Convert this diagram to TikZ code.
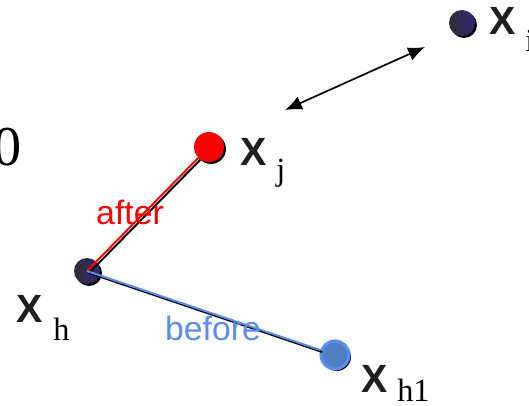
\documentclass[tikz,border=0pt]{standalone}
\usepackage{fontspec}
\setmainfont{Liberation Serif}
\newfontfamily\labelfont{Liberation Sans}
\usepackage{tikz}
\usetikzlibrary{arrows.meta,shadows}
\definecolor{DotRed}{HTML}{FF0000}
\definecolor{EdgeBlue}{HTML}{5B8DEF}
\definecolor{FillBlue}{HTML}{4F80C2}
\definecolor{DarkPurple}{HTML}{33287A}
\definecolor{DarkGray}{HTML}{2E2E33}
\tikzset{
  ball/.style={
    circle,inner sep=0pt,
    general shadow={fill=black,shadow xshift=1.4pt,shadow yshift=-1.4pt}
  },
  xlabel/.style={
    anchor=base west,inner sep=0pt,
    font=\labelfont\bfseries\fontsize{28}{33}\selectfont,text=black!88
  },
  sublabel/.style={
    anchor=base west,inner sep=0pt,
    font=\fontsize{23}{28}\selectfont
  },
  edgetext/.style={
    anchor=base,inner sep=0pt,
    font=\labelfont\fontsize{24}{29}\selectfont
  },
  shadowline/.style={line width=1.4pt,draw=black,
    transform canvas={shift={(1.4pt,-1.4pt)}}},
}

\begin{document}
\begin{tikzpicture}
  \useasboundingbox (0,0) rectangle (13.225,10.125);
  % points
  \node[ball,minimum size=0.65cm,left color=DarkGray,right color=DarkPurple] (xi) at (11.55,9.55) {};
  \node[ball,minimum size=0.75cm,fill=DotRed] (xj) at (5.225,6.45) {};
  \node[ball,minimum size=0.70cm,fill=FillBlue,draw=EdgeBlue,line width=2.2pt] (xh1) at (8.375,1.25) {};
  \node[ball,minimum size=0.65cm,left color=DarkGray,right color=DarkPurple] (xh) at (2.175,3.35) {};
  % connectors
  \draw[shadowline] (xh.center) -- (xj);
  \draw[line width=1.4pt,draw=DotRed] (xh.center) -- (xj);
  \draw[shadowline] (xh.center) -- (xh1);
  \draw[line width=1.4pt,draw=EdgeBlue] (xh.center) -- (xh1);
  \coordinate (d1) at (7.125,7.375);
  \coordinate (d2) at (10.625,8.95);
  \draw[line width=1.2pt,{Latex[length=12pt,width=10pt]}-{Latex[length=12pt,width=10pt]}] (d1) -- (d2);
  % labels
  \node[inner sep=0pt,font=\fontsize{40}{48}\selectfont] (zero) at (0.2,6.4375) {0};
  \node[xlabel] (lxi) at (12.22,9.25) {X};
  \node[sublabel] (sxi) at (13.125,8.825) {i};
  \node[xlabel] (lxj) at (6.0,6.0) {X};
  \node[sublabel] (sxj) at (6.9,5.625) {j};
  \node[xlabel] (lxh) at (0.4,2.075) {X};
  \node[sublabel] (sxh) at (1.325,1.625) {h};
  \node[xlabel] (lxh1) at (9.03,0.325) {X};
  \node[sublabel] (sxh1) at (9.925,0.1) {h1};
  \node[edgetext,text=DotRed] (after) at (3.25,4.525) {after};
  \node[edgetext,text=EdgeBlue] (before) at (5.325,1.625) {before};
\end{tikzpicture}
\end{document}
